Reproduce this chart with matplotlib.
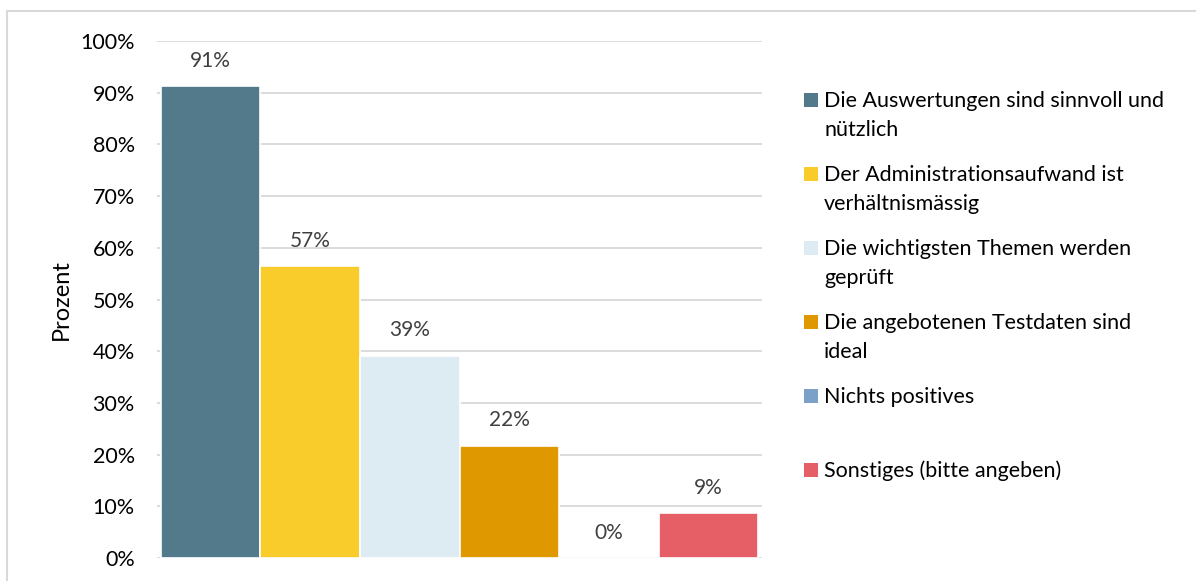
import matplotlib.pyplot as plt
from matplotlib.patches import Rectangle
from matplotlib.lines import Line2D
from matplotlib.ticker import FuncFormatter

plt.rcParams['font.family'] = ['Lato', 'DejaVu Sans']

# data
series = ['Die Auswertungen sind sinnvoll und\nnützlich',
          'Der Administrationsaufwand ist\nverhältnismässig',
          'Die wichtigsten Themen werden\ngeprüft',
          'Die angebotenen Testdaten sind\nideal',
          'Nichts positives',
          'Sonstiges (bitte angeben)']
values = [91.30, 56.52, 39.13, 21.74, 0, 8.70]
colors = ['#527a8a', '#f9cc2b', '#ddecf2', '#e09800', '#7aa2c8', '#e65f66']
yticks = [0, 10, 20, 30, 40, 50, 60, 70, 80, 90, 100]

W, H = 1196, 581
fig = plt.figure(figsize=(W / 100, H / 100), dpi=100)
ax = fig.add_axes([157 / W, 23 / H, 605 / W, 517 / H])

xs = list(range(len(values)))
bars = ax.bar(xs, values, width=1.0, color=colors, edgecolor='white', linewidth=1.2, zorder=3)

for x, v in zip(xs, values):
    ax.annotate('%.0f%%' % v, xy=(x, v), xytext=(0, 11), textcoords='offset points',
                ha='center', va='bottom', fontsize=15, color='#404040')

ax.set_xlim(-0.54, 5.54)
ax.set_ylim(0, 100)
ax.set_yticks(yticks)
ax.yaxis.set_major_formatter(FuncFormatter(lambda v, p: '%d%%' % v))
ax.tick_params(axis='y', labelsize=15.5, length=0, pad=16, labelcolor='black')
ax.set_xticks([])
ax.grid(axis='y', color='#d9d9d9', linewidth=1.3, zorder=0)
for s in ax.spines.values():
    s.set_visible(False)
ax.set_ylabel('Prozent', fontsize=17)
ax.yaxis.set_label_coords(-0.14, 0.5)

# legend, drawn by hand to match spacing
for i, (name, c) in enumerate(zip(series, colors)):
    base = 107 + 74 * i
    fig.patches.append(Rectangle((804 / W, 1 - base / H), 14 / W, 14 / H,
                                 transform=fig.transFigure, facecolor=c, edgecolor='none'))
    for j, line in enumerate(name.split('\n')):
        fig.text(824 / W, 1 - (base + 29 * j) / H, line, fontsize=15.5,
                 va='baseline', ha='left')

# outer frame
fig.add_artist(Line2D([7 / W, 1], [1 - 11 / H, 1 - 11 / H], transform=fig.transFigure,
                      color='#d9d9d9', linewidth=1.5))
fig.add_artist(Line2D([7 / W, 7 / W], [0, 1 - 11 / H], transform=fig.transFigure,
                      color='#d9d9d9', linewidth=1.5))

fig.savefig('out.png', dpi=100)
